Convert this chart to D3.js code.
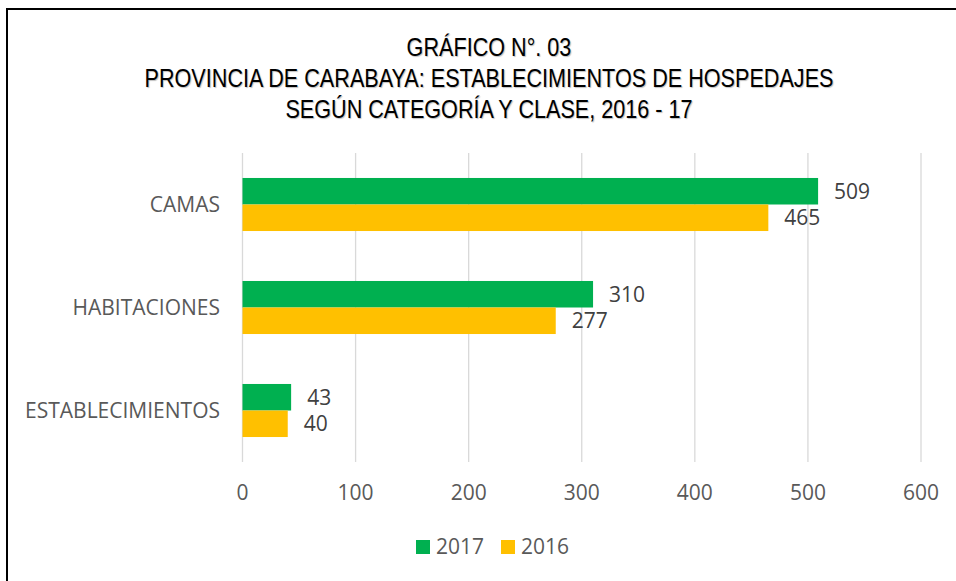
<!DOCTYPE html>
<html>
<head>
<meta charset="utf-8">
<script src="https://cdn.jsdelivr.net/npm/d3@7"></script>
<style>
  body { margin: 0; background: #fff; }
  svg { display: block; }
</style>
</head>
<body>
<div id="chart"></div>
<script>
var w = 956,
    h = 581;

var categories = ["CAMAS", "HABITACIONES", "ESTABLECIMIENTOS"];
var series = ["2017", "2016"];
var values2017 = [509, 310, 43];
var values2016 = [465, 277, 40];
var xTicks = [0, 100, 200, 300, 400, 500, 600];
var titleLines = ["GRÁFICO N°. 03",
                  "PROVINCIA DE CARABAYA: ESTABLECIMIENTOS DE HOSPEDAJES",
                  "SEGÚN CATEGORÍA Y CLASE, 2016 - 17"];
var colors = ["#00B050", "#FFC000"];

var svg = d3.select("#chart")
            .append("svg")
            .attr("width", w)
            .attr("height", h);

// frame (right and bottom edges fall outside the picture)
svg.append("rect")
   .attr("x", 7)
   .attr("y", 9)
   .attr("width", 960)
   .attr("height", 600)
   .attr("fill", "none")
   .attr("stroke", "#000")
   .attr("stroke-width", 2);

// title, narrowed to look like Arial Narrow
var title = svg.append("g")
               .attr("transform", "translate(489,0) scale(0.865,1)");

title.selectAll("text")
   .data(titleLines)
   .enter().append("text")
   .attr("x", 0)
   .attr("y", function(d, i) { return 56 + i * 31; })
   .attr("text-anchor", "middle")
   .attr("font-family", "'Liberation Sans', Arial, sans-serif")
   .attr("font-size", "25px")
   .attr("fill", "#000")
   .style("text-shadow", "1px 1px 1px rgba(0,0,0,0.25)")
   .text(function(d) { return d; });

var x = d3.scaleLinear()
          .domain([0, 600])
          .range([242.5, 921]);

var y = d3.scaleBand()
          .domain(categories)
          .range([153, 462])
          .paddingInner(0.485)
          .paddingOuter(0.2425);

var ySub = d3.scaleBand()
             .domain(series)
             .range([0, y.bandwidth()]);

var labelFont = "'Open Sans', sans-serif";
var labelSize = "21px";

// gridlines
svg.selectAll("line.grid")
   .data(xTicks)
   .enter().append("line")
   .attr("class", "grid")
   .attr("x1", function(d) { return x(d); })
   .attr("x2", function(d) { return x(d); })
   .attr("y1", 153)
   .attr("y2", 462)
   .attr("stroke", "#d9d9d9")
   .attr("stroke-width", 1.3);

// x tick labels
svg.selectAll("text.xtick")
   .data(xTicks)
   .enter().append("text")
   .attr("class", "xtick")
   .attr("x", function(d) { return x(d); })
   .attr("y", 493)
   .attr("dy", "0.35em")
   .attr("text-anchor", "middle")
   .attr("font-family", labelFont)
   .attr("font-size", labelSize)
   .attr("fill", "#595959")
   .text(function(d) { return d; });

// category labels
svg.selectAll("text.cat")
   .data(categories)
   .enter().append("text")
   .attr("class", "cat")
   .attr("x", 220)
   .attr("y", function(d) { return y(d) + y.bandwidth() / 2; })
   .attr("dy", "0.35em")
   .attr("text-anchor", "end")
   .attr("font-family", labelFont)
   .attr("font-size", labelSize)
   .attr("fill", "#595959")
   .text(function(d) { return d; });

var rows = categories.map(function(c, i) {
  return { cat: c, vals: [values2017[i], values2016[i]] };
});

var groups = svg.selectAll("g.row")
                .data(rows)
                .enter().append("g")
                .attr("class", "row")
                .attr("transform", function(d) { return "translate(0," + y(d.cat) + ")"; });

groups.selectAll("rect")
      .data(function(d) { return d.vals.map(function(v, j) { return { s: series[j], v: v, j: j }; }); })
      .enter().append("rect")
      .attr("x", x(0))
      .attr("y", function(d) { return ySub(d.s); })
      .attr("width", function(d) { return x(d.v) - x(0); })
      .attr("height", ySub.bandwidth())
      .attr("fill", function(d) { return colors[d.j]; });

groups.selectAll("text")
      .data(function(d) { return d.vals.map(function(v, j) { return { s: series[j], v: v, j: j }; }); })
      .enter().append("text")
      .attr("x", function(d) { return x(d.v) + 16; })
      .attr("y", function(d) { return ySub(d.s) + ySub.bandwidth() / 2; })
      .attr("dy", "0.35em")
      .attr("font-family", labelFont)
      .attr("font-size", labelSize)
      .attr("fill", "#404040")
      .text(function(d) { return d.v; });

// legend
var legend = svg.selectAll("g.legend")
                .data(series)
                .enter().append("g")
                .attr("class", "legend")
                .attr("transform", function(d, i) { return "translate(" + (416 + i * 85) + ",540)"; });

legend.append("rect")
      .attr("width", 14)
      .attr("height", 14)
      .attr("fill", function(d, i) { return colors[i]; });

legend.append("text")
      .attr("x", 20)
      .attr("y", 7)
      .attr("dy", "0.35em")
      .attr("font-family", labelFont)
      .attr("font-size", labelSize)
      .attr("fill", "#595959")
      .text(function(d) { return d; });
</script>
</body>
</html>
